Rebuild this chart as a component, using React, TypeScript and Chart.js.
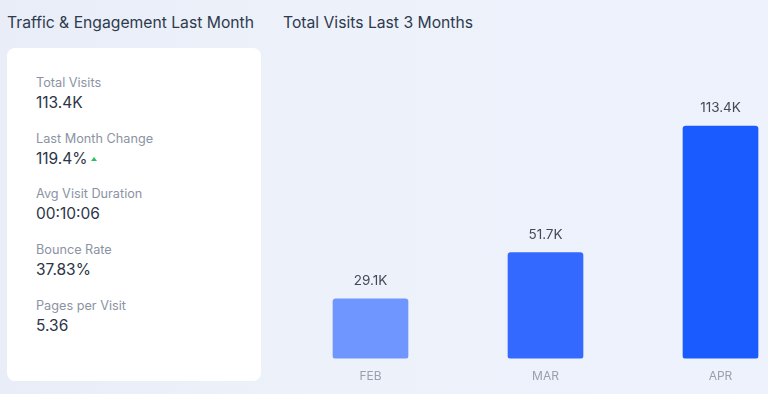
import React, { useEffect, useRef } from "react";
import { Chart, registerables } from "chart.js";

Chart.register(...registerables);

const months = ["FEB", "MAR", "APR"];
const visits = [29100, 51700, 113400];
const barColors = ["#6f96fe", "#3369ff", "#1a5bff"];

const metricLabels = ["Total Visits", "Last Month Change", "Avg Visit Duration", "Bounce Rate", "Pages per Visit"];
const metricValues = ["113.4K", "119.4%", "00:10:06", "37.83%", "5.36"];

const FONT = "Inter, 'Open Sans', sans-serif";

const fmtK = (v: number) => (v / 1000).toFixed(1) + "K";

const valueLabelPlugin = {
  id: "valueLabels",
  afterDatasetsDraw(chart: any) {
    const ctx = chart.ctx;
    const meta = chart.getDatasetMeta(0);
    ctx.save();
    ctx.font = `13.5px ${FONT}`;
    ctx.fillStyle = "#444a55";
    ctx.textAlign = "center";
    ctx.textBaseline = "middle";
    meta.data.forEach((bar: any, i: number) => {
      ctx.fillText(fmtK(visits[i]), bar.x, bar.y - 18);
    });
    ctx.restore();
  },
};

export default function App() {
  const ref = useRef<HTMLCanvasElement>(null);
  useEffect(() => {
    if (!ref.current) return;
    const chart = new Chart(ref.current, {
      type: "bar",
      data: {
        labels: months,
        datasets: [
          {
            data: visits,
            backgroundColor: barColors,
            borderRadius: 3,
            borderSkipped: false,
            barThickness: 75,
          },
        ],
      },
      options: {
        animation: false,
        responsive: false,
        layout: { padding: { top: 53, bottom: 0, left: 0, right: 0 } },
        plugins: { legend: { display: false }, tooltip: { enabled: false } },
        scales: {
          x: {
            grid: { display: false, drawTicks: false },
            border: { display: false },
            ticks: { color: "#9aa0ab", font: { family: FONT, size: 12 }, padding: 10.5 },
          },
          y: { display: false, min: 0, max: 149000 },
        },
      },
      plugins: [valueLabelPlugin],
    });
    return () => chart.destroy();
  }, []);

  return (
    <div
      style={{
        position: "fixed",
        left: 0,
        top: 0,
        width: 768,
        height: 394,
        overflow: "hidden",
        background: "linear-gradient(90deg, #e8edf7 0%, #edf1fa 40%, #eef2fc 100%)",
        fontFamily: FONT,
      }}
    >
      <div style={{ position: "absolute", left: 7, top: 13, fontSize: 15.7, color: "#2e3a4d", whiteSpace: "nowrap", lineHeight: "20px" }}>
        Traffic &amp; Engagement Last Month
      </div>
      <div style={{ position: "absolute", left: 283, top: 13, fontSize: 15.7, color: "#2e3a4d", whiteSpace: "nowrap", lineHeight: "20px" }}>
        Total Visits Last 3 Months
      </div>
      <div
        style={{
          position: "absolute",
          left: 7,
          top: 48,
          width: 254,
          height: 333,
          background: "#ffffff",
          borderRadius: 8,
        }}
      >
        {metricLabels.map((l, i) => (
          <React.Fragment key={l}>
            <div style={{ position: "absolute", left: 29, top: 26 + i * 55.7, fontSize: 12.7, color: "#8b93a3", lineHeight: "18px", whiteSpace: "nowrap" }}>
              {l}
            </div>
            <div style={{ position: "absolute", left: 29, top: 45 + i * 55.7, fontSize: 15.5, color: "#2c3547", lineHeight: "20px", whiteSpace: "nowrap", display: "flex", alignItems: "center" }}>
              {metricValues[i]}
              {i === 1 && (
                <span
                  style={{
                    display: "inline-block",
                    marginLeft: 3,
                    width: 0,
                    height: 0,
                    borderLeft: "3.5px solid transparent",
                    borderRight: "3.5px solid transparent",
                    borderBottom: "4px solid #22c55e",
                  }}
                />
              )}
            </div>
          </React.Fragment>
        ))}
      </div>
      <canvas ref={ref} width={525} height={394} style={{ position: "absolute", left: 283, top: 0 }} />
    </div>
  );
}
